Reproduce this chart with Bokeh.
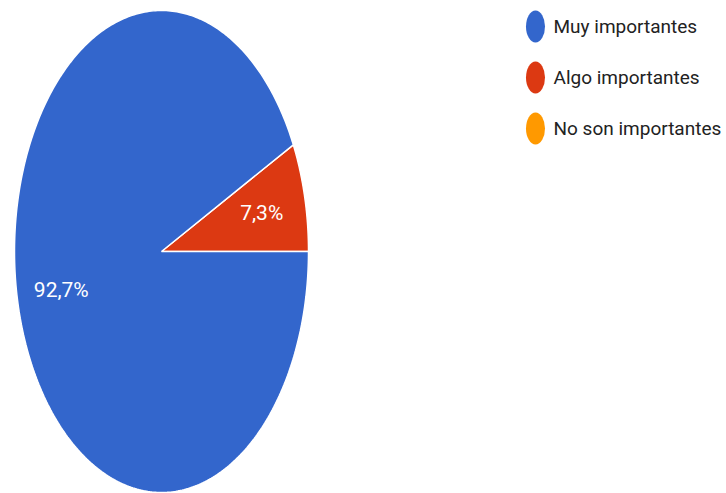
import numpy as np
from bokeh.plotting import figure
from bokeh.models import Range1d
from bokeh.core.properties import value
from bokeh.embed import file_html
from bokeh.resources import INLINE

# Survey answers and their shares (percent)
categories = ["Muy importantes", "Algo importantes", "No son importantes"]
shares = [92.7, 7.3, 0.0]
colors = ["#3366CC", "#DC3912", "#FF9900"]
pct_labels = ["92,7%", "7,3%", ""]

W, H = 726, 493
p = figure(width=W, height=H, output_backend="svg", toolbar_location=None,
           x_range=Range1d(0, W), y_range=Range1d(H, 0),
           min_border=0, outline_line_color=None)
p.axis.visible = False
p.grid.visible = False
p.background_fill_color = "white"
p.border_fill_color = "white"

# Pie geometry (drawn squeezed horizontally)
cx, cy = 161, 251
rx, ry = 147, 241

xs, ys, fills = [], [], []
lx, ly, ltxt = [], [], []
# red runs counter-clockwise from 3 o'clock, blue fills the rest
order = [1, 0]
a0 = 0.0
for i in order:
    frac = shares[i] / 100.0
    if frac <= 0:
        continue
    a1 = a0 + 2 * np.pi * frac
    t = np.linspace(a0, a1, 400)
    px = np.concatenate([[cx], cx + rx * np.cos(t)])
    py = np.concatenate([[cy], cy - ry * np.sin(t)])
    xs.append(px.tolist())
    ys.append(py.tolist())
    fills.append(colors[i])
    mid = (a0 + a1) / 2
    lx.append(cx + 0.7 * rx * np.cos(mid))
    ly.append(cy - 0.7 * ry * np.sin(mid))
    ltxt.append(pct_labels[i])
    a0 = a1

p.patches(xs=xs, ys=ys, fill_color=fills, line_color="white", line_width=1.5)

p.text(x=lx, y=ly, text=ltxt, text_color="white",
       text_font=value("Roboto"), text_font_size="21px",
       text_align="center", text_baseline="middle")

# Legend
leg_y = [26, 77, 128]
p.ellipse(x=[535] * 3, y=leg_y, width=19, height=32, fill_color=colors,
          line_color=None)
p.text(x=[553] * 3, y=leg_y, text=categories, text_color="#222222",
       text_font=value("Roboto"), text_font_size="19px",
       text_align="left", text_baseline="middle")

open("out.html", "w").write(file_html(p, INLINE))
